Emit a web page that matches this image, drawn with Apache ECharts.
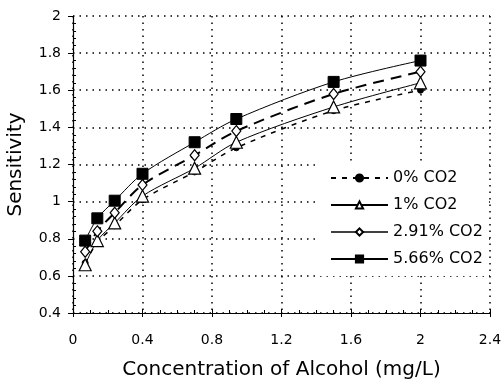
<!DOCTYPE html>
<html>
<head>
<meta charset="utf-8">
<script src="https://cdn.jsdelivr.net/npm/echarts@6/dist/echarts.min.js"></script>
<style>
  html, body { margin: 0; padding: 0; background: #fff; }
  #chart { width: 502px; height: 390px; }
</style>
</head>
<body>
<div id="chart"></div>
<script>
// Alcohol concentration (mg/L) at which sensitivity was measured
const concentration = [0.07, 0.14, 0.24, 0.4, 0.7, 0.94, 1.5, 2.0];

// Sensor sensitivity for each CO2 background level
const co2_0 = [0.67, 0.78, 0.87, 1.01, 1.16, 1.29, 1.49, 1.60];
const co2_1 = [0.66, 0.79, 0.885, 1.03, 1.18, 1.32, 1.51, 1.64];
const co2_291 = [0.73, 0.84, 0.94, 1.09, 1.25, 1.38, 1.58, 1.70];
const co2_566 = [0.79, 0.91, 1.005, 1.15, 1.32, 1.445, 1.645, 1.76];

const seriesNames = ['0% CO2', '1% CO2', '2.91% CO2', '5.66% CO2'];

const FONT = 'DejaVu Sans';

function pairs(ys) {
  return concentration.map((x, i) => [x, ys[i]]);
}

const chart = echarts.init(document.getElementById('chart'), null, { renderer: 'canvas' });

const dotted = { color: '#000', width: 1.5, type: [1.5, 5] };

const xBase = {
  type: 'value', min: 0, max: 2.4, interval: 0.4, gridIndex: 0
};
const yBase = {
  type: 'value', min: 0.4, max: 2, interval: 0.2, gridIndex: 0
};

chart.setOption({
  backgroundColor: '#fff',
  animation: false,
  textStyle: { fontFamily: FONT, color: '#000' },
  grid: { left: 73, right: 12, top: 16, bottom: 77, containLabel: false, outerBoundsMode: 'none' },
  legend: {
    orient: 'vertical',
    left: 320,
    top: 161,
    padding: [8, 4, 8, 10],
    backgroundColor: '#fff',
    itemWidth: 57,
    itemHeight: 9,
    itemGap: 9,
    textStyle: { fontFamily: FONT, fontSize: 16, color: '#000', lineHeight: 18 },
    data: [
      { name: seriesNames[0] },
      { name: seriesNames[1] },
      { name: seriesNames[2], lineStyle: { type: 'solid', width: 1.5, color: '#000' } },
      { name: seriesNames[3] }
    ],
    selectedMode: false
  },
  xAxis: [
    Object.assign({}, xBase, {
      name: 'Concentration of Alcohol (mg/L)',
      nameLocation: 'middle',
      nameGap: 47,
      nameMoveOverlap: false,
      nameTextStyle: { fontFamily: FONT, fontSize: 20, color: '#000' },
      axisLine: { show: true, lineStyle: { color: '#000', width: 1.2 } },
      axisTick: { show: true, inside: false, length: 4, lineStyle: { color: '#000', width: 1 } },
      axisLabel: { fontFamily: FONT, fontSize: 14, color: '#000', margin: 20 },
      splitLine: { show: true, lineStyle: dotted },
      minorTick: { show: false },
      z: 3
    }),
    Object.assign({}, xBase, {
      position: 'bottom',
      axisLine: { show: false },
      axisTick: { show: true, inside: true, length: 4, lineStyle: { color: '#000', width: 1 } },
      axisLabel: { show: false },
      splitLine: { show: false },
      minorTick: { show: true, splitNumber: 4, length: 3, lineStyle: { color: '#000', width: 1 } }
    })
  ],
  yAxis: [
    Object.assign({}, yBase, {
      name: 'Sensitivity',
      nameLocation: 'middle',
      nameGap: 47,
      nameRotate: 90,
      nameMoveOverlap: false,
      nameTextStyle: { fontFamily: FONT, fontSize: 20, color: '#000' },
      axisLine: { show: true, lineStyle: { color: '#000', width: 1.2 } },
      axisTick: { show: true, inside: false, length: 5, lineStyle: { color: '#000', width: 1 } },
      axisLabel: { fontFamily: FONT, fontSize: 14, color: '#000', margin: 12 },
      splitLine: { show: true, lineStyle: dotted },
      minorTick: { show: false },
      z: 3
    }),
    Object.assign({}, yBase, {
      position: 'left',
      axisLine: { show: false },
      axisTick: { show: false, inside: true },
      axisLabel: { show: false },
      splitLine: { show: false },
      minorTick: { show: true, splitNumber: 5, length: 3, lineStyle: { color: '#000', width: 1 } }
    })
  ],
  series: [
    {
      name: seriesNames[0], type: 'line', data: pairs(co2_0), smooth: 0.3,
      symbol: 'circle', symbolSize: 6,
      itemStyle: { color: '#000', borderColor: '#000', borderWidth: 1 },
      lineStyle: { color: '#000', width: 1.5, type: [5, 6] },
      z: 4
    },
    {
      name: seriesNames[1], type: 'line', data: pairs(co2_1), smooth: 0.3,
      symbol: 'triangle', symbolSize: 12,
      itemStyle: { color: '#fff', borderColor: '#000', borderWidth: 1.2 },
      lineStyle: { color: '#000', width: 1 },
      z: 5
    },
    {
      name: seriesNames[2], type: 'line', data: pairs(co2_291), smooth: 0.3,
      symbol: 'diamond', symbolSize: [9, 11],
      itemStyle: { color: '#fff', borderColor: '#000', borderWidth: 1.2 },
      lineStyle: { color: '#000', width: 2, type: [11, 7] },
      z: 6
    },
    {
      name: seriesNames[3], type: 'line', data: pairs(co2_566), smooth: 0.3,
      symbol: 'rect', symbolSize: 11,
      itemStyle: { color: '#000', borderColor: '#000', borderWidth: 1 },
      lineStyle: { color: '#000', width: 1 },
      z: 7
    }
  ]
});
</script>
</body>
</html>
